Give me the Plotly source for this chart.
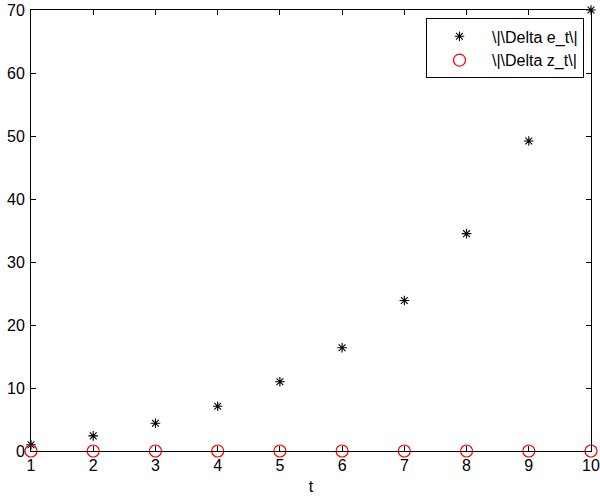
import plotly.graph_objects as go

t = [1, 2, 3, 4, 5, 6, 7, 8, 9, 10]
delta_e = [1.0, 2.4, 4.4, 7.1, 11.0, 16.4, 23.9, 34.5, 49.2, 70.0]
delta_z = [0, 0, 0, 0, 0, 0, 0, 0, 0, 0]
x_ticks = [1, 2, 3, 4, 5, 6, 7, 8, 9, 10]
y_ticks = [0, 10, 20, 30, 40, 50, 60, 70]

fig = go.Figure()
fig.add_trace(go.Scatter(
    x=t, y=delta_e, mode="markers", name="\\|\\Delta e_t\\|",
    marker=dict(symbol="asterisk-open", size=8, color="black",
                line=dict(color="black", width=1.1)),
    cliponaxis=False))
fig.add_trace(go.Scatter(
    x=t, y=delta_z, mode="markers", name="\\|\\Delta z_t\\|",
    marker=dict(symbol="circle-open", size=12, color="red",
                line=dict(color="red", width=1.2)),
    cliponaxis=False))

axis_common = dict(showline=True, linecolor="black", linewidth=1, mirror="ticks",
                   ticks="inside", ticklen=5, tickcolor="black", tickwidth=1,
                   showgrid=False, zeroline=False, automargin=False,
                   tickfont=dict(family="Liberation Sans, Arial", size=16, color="black"))

fig.update_layout(
    width=600, height=498,
    margin=dict(l=31, r=9, t=10, b=47, autoexpand=False),
    paper_bgcolor="white", plot_bgcolor="white",
    font=dict(family="Liberation Sans, Arial", size=16, color="black"),
    xaxis=dict(range=[1, 10], tickvals=x_ticks, ticktext=[str(v) for v in x_ticks],
               title=dict(text="t", standoff=7, font=dict(size=16)), **axis_common),
    yaxis=dict(range=[0, 70], tickvals=y_ticks, ticktext=[str(v) for v in y_ticks],
               ticklabelstandoff=2, **axis_common),
    legend=dict(x=0.9875, y=0.981, xanchor="right", yanchor="top",
                bgcolor="white", bordercolor="black", borderwidth=1,
                font=dict(size=16), itemwidth=55),
    showlegend=True,
)

fig.write_html("out.html")
